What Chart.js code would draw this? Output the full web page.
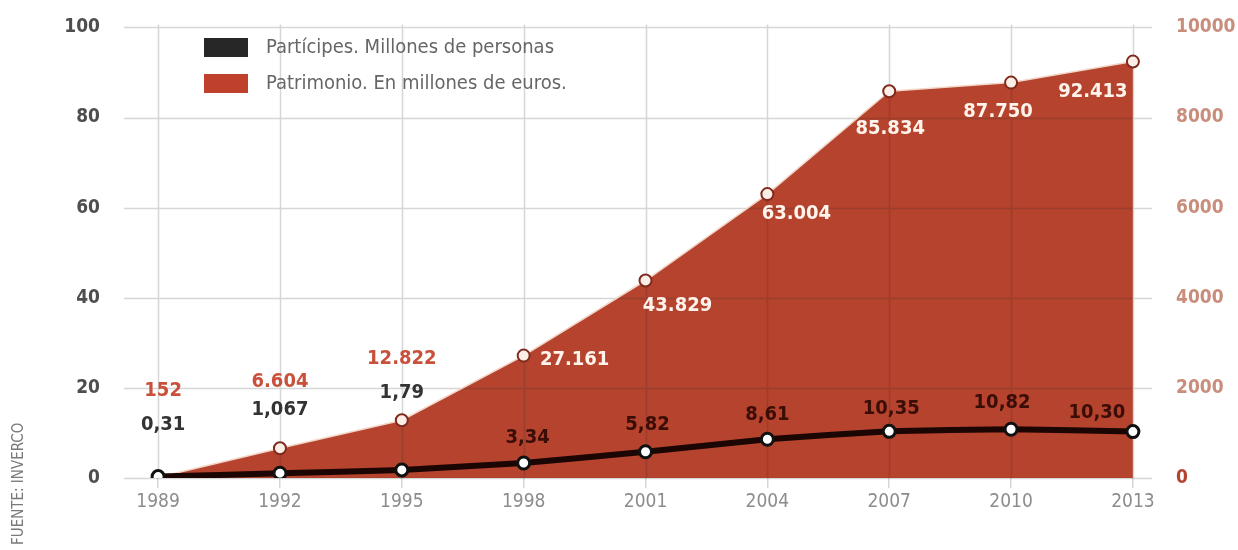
<!DOCTYPE html>
<html lang="es">
<head>
<meta charset="utf-8">
<title>Partícipes y patrimonio de los fondos</title>
<script src="https://cdn.jsdelivr.net/npm/chart.js@4.4.1/dist/chart.umd.min.js"></script>
<style>
  html, body { margin: 0; padding: 0; background: #fff; }
</style>
</head>
<body>
<canvas id="chart" width="1238" height="550"></canvas>
<script>
// ── Data ───────────────────────────────────────────────────────────────────
const YEARS       = [1989, 1992, 1995, 1998, 2001, 2004, 2007, 2010, 2013];
// Partícipes, millones de personas (as printed)
const PARTICIPES  = ['0,31', '1,067', '1,79', '3,34', '5,82', '8,61', '10,35', '10,82', '10,30'];
// Patrimonio, millones de euros
const PATRIMONIO  = [152, 6604, 12822, 27161, 43829, 63004, 85834, 87750, 92413];
const LEFT_TICKS  = [0, 20, 40, 60, 80, 100];
const RIGHT_TICKS = [0, 2000, 4000, 6000, 8000, 10000];
const SERIES_NAMES = ['Partícipes. Millones de personas', 'Patrimonio. En millones de euros.'];
const SOURCE_NOTE = 'FUENTE: INVERCO';

// ── Styling ────────────────────────────────────────────────────────────────
const FONT       = "'Liberation Sans Narrow', 'DejaVu Sans Condensed', 'Roboto', sans-serif";
const GRID_COLOR = 'rgba(50,50,50,0.2)';
const AREA_RED   = '#b5432d';

const participesValues = PARTICIPES.map(s => parseFloat(s.replace(',', '.')));
const patrimonioLabels = PATRIMONIO.map(v => v.toLocaleString('de-DE'));

// label placement relative to each point, [dx, dy]
const LABEL_OFFSETS = [
  [[5, -52], [0, -63], [0, -77], [4, -25], [2, -27], [0, -24], [2, -23], [-9, -26], [-36, -19]],
  [[5, -87], [0, -66], [0, -61], [51, 4], [32, 25], [29, 20], [1, 38], [-13, 29], [-40, 30]],
];
const LABEL_COLORS = [
  i => (i < 3 ? '#333333' : '#3a0d06'),
  i => (i < 3 ? '#c9503a' : '#fff4ec'),
];

// Grid lines sit on top of the red fill but under the lines and points,
// so they are drawn right after the filler paints the area.
const gridOverFill = {
  id: 'gridOverFill',
  beforeDatasetDraw(chart, args) {
    if (args.index !== 1) return;
    const { ctx, chartArea: a, scales } = chart;
    ctx.save();
    ctx.strokeStyle = GRID_COLOR;
    ctx.lineWidth = 1.5;
    ctx.beginPath();
    LEFT_TICKS.forEach(t => {
      const y = Math.round(scales.y.getPixelForValue(t)) + 0.5;
      ctx.moveTo(a.left, y);
      ctx.lineTo(a.right, y);
    });
    YEARS.forEach(t => {
      const x = Math.round(scales.x.getPixelForValue(t)) + 0.5;
      ctx.moveTo(x, a.top - 3);
      ctx.lineTo(x, a.bottom);
    });
    ctx.stroke();
    ctx.restore();
  },
};

const valueLabels = {
  id: 'valueLabels',
  afterDraw(chart) {
    const { ctx } = chart;
    ctx.save();
    ctx.font = `bold 20px ${FONT}`;
    ctx.textAlign = 'center';
    ctx.textBaseline = 'middle';
    const texts = [PARTICIPES, patrimonioLabels];
    chart.data.datasets.forEach((ds, di) => {
      chart.getDatasetMeta(di).data.forEach((pt, i) => {
        const [dx, dy] = LABEL_OFFSETS[di][i];
        ctx.fillStyle = LABEL_COLORS[di](i);
        ctx.fillText(texts[di][i], pt.x + dx, pt.y + dy);
      });
    });
    ctx.restore();
  },
};

const boxLegend = {
  id: 'boxLegend',
  afterDraw(chart) {
    const { ctx } = chart;
    ctx.save();
    ctx.font = `20px ${FONT}`;
    ctx.textBaseline = 'middle';
    chart.data.datasets.forEach((ds, i) => {
      const y = 38 + i * 36;
      ctx.fillStyle = ds.legendColor;
      ctx.fillRect(204, y, 44, 19);
      ctx.fillStyle = '#666666';
      ctx.fillText(ds.label, 266, y + 10);
    });
    // source note, rotated along the left edge
    ctx.translate(19, 545);
    ctx.rotate(-Math.PI / 2);
    ctx.font = `15px ${FONT}`;
    ctx.fillStyle = '#7a7a7a';
    ctx.textAlign = 'left';
    ctx.fillText(SOURCE_NOTE, 0, 0);
    ctx.restore();
  },
};

new Chart(document.getElementById('chart'), {
  type: 'line',
  data: {
    datasets: [
      {
        label:                SERIES_NAMES[0],
        data:                 YEARS.map((x, i) => ({ x, y: participesValues[i] })),
        legendColor:          '#272727',
        borderColor:          '#1c0603',
        borderWidth:          6,
        pointRadius:          6,
        pointBackgroundColor: '#ffffff',
        pointBorderColor:     '#111111',
        pointBorderWidth:     3,
        fill:                 false,
        tension:              0.1,
      },
      {
        label:                SERIES_NAMES[1],
        data:                 YEARS.map((x, i) => ({ x, y: PATRIMONIO[i] / 1000 })),
        legendColor:          '#c0412b',
        backgroundColor:      AREA_RED,
        borderColor:          '#f2d6c8',
        borderWidth:          1.5,
        pointRadius:          6,
        pointBackgroundColor: '#fbeee6',
        pointBorderColor:     '#7e2a1c',
        pointBorderWidth:     2,
        fill:                 'origin',
        tension:              0,
      },
    ],
  },
  options: {
    responsive: false,
    animation:  false,
    layout: { padding: { top: 22, left: 0, right: 0, bottom: 0 } },
    scales: {
      x: {
        type: 'linear',
        min:  1988.16,
        max:  2013.47,
        afterBuildTicks(scale) { scale.ticks = YEARS.map(v => ({ value: v })); },
        afterFit(scale) { scale.height = 72; },
        grid:   { drawOnChartArea: false, tickLength: 10, color: GRID_COLOR, lineWidth: 1.5 },
        border: { display: false },
        ticks:  {
          color: '#8c8c8c',
          font:  { family: FONT, size: 19 },
          padding: 3,
          maxRotation: 0,
          callback: v => String(v),
        },
      },
      y: {
        position: 'left',
        min: 0,
        max: 100,
        afterBuildTicks(scale) { scale.ticks = LEFT_TICKS.map(v => ({ value: v })); },
        afterFit(scale) { scale.width = 124; },
        grid:   { display: false },
        border: { display: false },
        ticks:  {
          color: '#4e4e4e',
          font:  { family: FONT, size: 19, weight: 'bold' },
          padding: 16,
          callback: v => String(v),
        },
      },
      y2: {
        position: 'right',
        min: 0,
        max: 10000,
        afterBuildTicks(scale) { scale.ticks = RIGHT_TICKS.map(v => ({ value: v })); },
        afterFit(scale) { scale.width = 86; },
        grid:   { display: false },
        border: { display: false },
        ticks:  {
          color: ctx => (ctx.tick.value === 0 ? AREA_RED : '#c98d7c'),
          font:  { family: FONT, size: 19, weight: 'bold' },
          padding: 16,
          callback: v => String(v),
        },
      },
    },
    plugins: {
      legend:  { display: false },
      tooltip: { enabled: false },
    },
  },
  plugins: [gridOverFill, valueLabels, boxLegend],
});
</script>
</body>
</html>
